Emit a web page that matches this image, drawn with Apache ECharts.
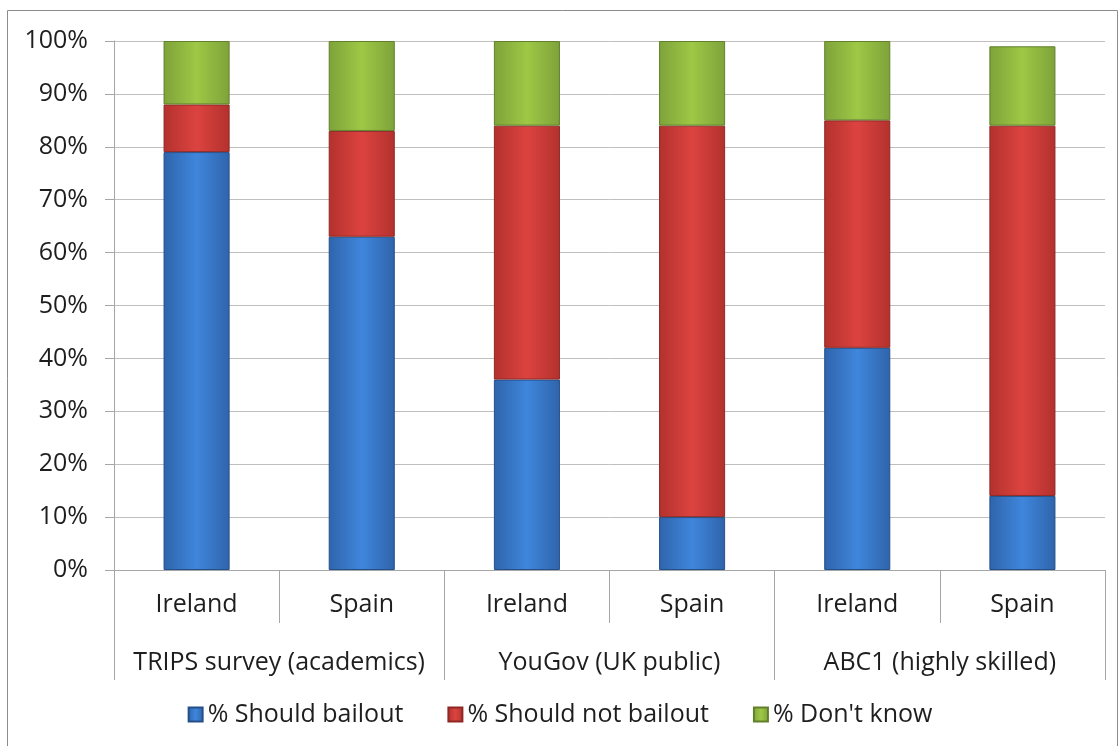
<!DOCTYPE html>
<html>
<head>
<meta charset="utf-8">
<script src="https://cdn.jsdelivr.net/npm/echarts@6/dist/echarts.min.js"></script>
<style>
  html, body { margin: 0; padding: 0; background: #fff; }
  #chart { width: 1120px; height: 746px; }
</style>
</head>
<body>
<div id="chart"></div>
<script>
  // 数据
  const countries = ['Ireland', 'Spain', 'Ireland', 'Spain', 'Ireland', 'Spain']
  const groups = ['TRIPS survey (academics)', 'YouGov (UK public)', 'ABC1 (highly skilled)']
  const bailout = [79, 63, 36, 10, 42, 14]
  const notBailout = [9, 20, 48, 74, 43, 70]
  const dontKnow = [12, 17, 16, 16, 15, 15]
  const seriesNames = ['% Should bailout', '% Should not bailout', "% Don't know"]

  const FONT = 'Open Sans'
  const TEXT = '#1e1e1e'
  const SIZE = 25

  function grad(edge, mid) {
    return new echarts.graphic.LinearGradient(0, 0, 1, 0, [
      { offset: 0, color: edge },
      { offset: 0.5, color: mid },
      { offset: 1, color: edge }
    ])
  }

  const colors = [
    { fill: grad('#2f64ab', '#3f86dc'), border: '#24508a' },
    { fill: grad('#b3312d', '#dc4340'), border: '#8e2825' },
    { fill: grad('#7ea23a', '#9ec845'), border: '#62802c' }
  ]

  function makeSeries(name, data, c) {
    return {
      name: name,
      type: 'bar',
      stack: 'one',
      barWidth: '40%',
      data: data,
      itemStyle: {
        color: c.fill,
        borderColor: c.border,
        borderWidth: 1
      }
    }
  }

  const myChart = echarts.init(document.getElementById('chart'))
  myChart.setOption({
    animation: false,
    graphic: [{
      type: 'rect',
      shape: { x: 7.5, y: 10.5, width: 1110, height: 760 },
      style: { fill: 'none', stroke: '#8c8c8c', lineWidth: 1 },
      silent: true
    }],
    grid: { left: 114, right: 15, top: 41, bottom: 176 },
    legend: {
      bottom: 14,
      left: 'center',
      icon: 'rect',
      itemWidth: 14,
      itemHeight: 14,
      itemGap: 44,
      textStyle: { fontFamily: FONT, fontSize: SIZE, color: TEXT },
      data: seriesNames
    },
    xAxis: [
      {
        type: 'category',
        data: countries,
        axisLine: { lineStyle: { color: '#a6a6a6' } },
        axisTick: { show: true, interval: 0, length: 53, lineStyle: { color: '#a6a6a6' } },
        axisLabel: { interval: 0, margin: 22, fontFamily: FONT, fontSize: SIZE, color: TEXT }
      },
      {
        type: 'category',
        position: 'bottom',
        data: groups,
        axisLine: { show: false },
        axisTick: { show: true, interval: 0, length: 110, lineStyle: { color: '#a6a6a6' } },
        axisLabel: { interval: 0, margin: 80, fontFamily: FONT, fontSize: SIZE, color: TEXT }
      }
    ],
    yAxis: {
      type: 'value',
      min: 0,
      max: 100,
      interval: 10,
      axisLine: { show: true, lineStyle: { color: '#a6a6a6' } },
      axisTick: { show: true, inside: false, length: 9, lineStyle: { color: '#a6a6a6' } },
      splitLine: { show: true, lineStyle: { color: '#bfbfbf', width: 1 } },
      axisLabel: {
        margin: 26,
        fontFamily: FONT,
        fontSize: SIZE,
        color: TEXT,
        formatter: function(v) {
          return v + '%'
        }
      }
    },
    series: [
      makeSeries(seriesNames[0], bailout, colors[0]),
      makeSeries(seriesNames[1], notBailout, colors[1]),
      makeSeries(seriesNames[2], dontKnow, colors[2])
    ]
  })
</script>
</body>
</html>
